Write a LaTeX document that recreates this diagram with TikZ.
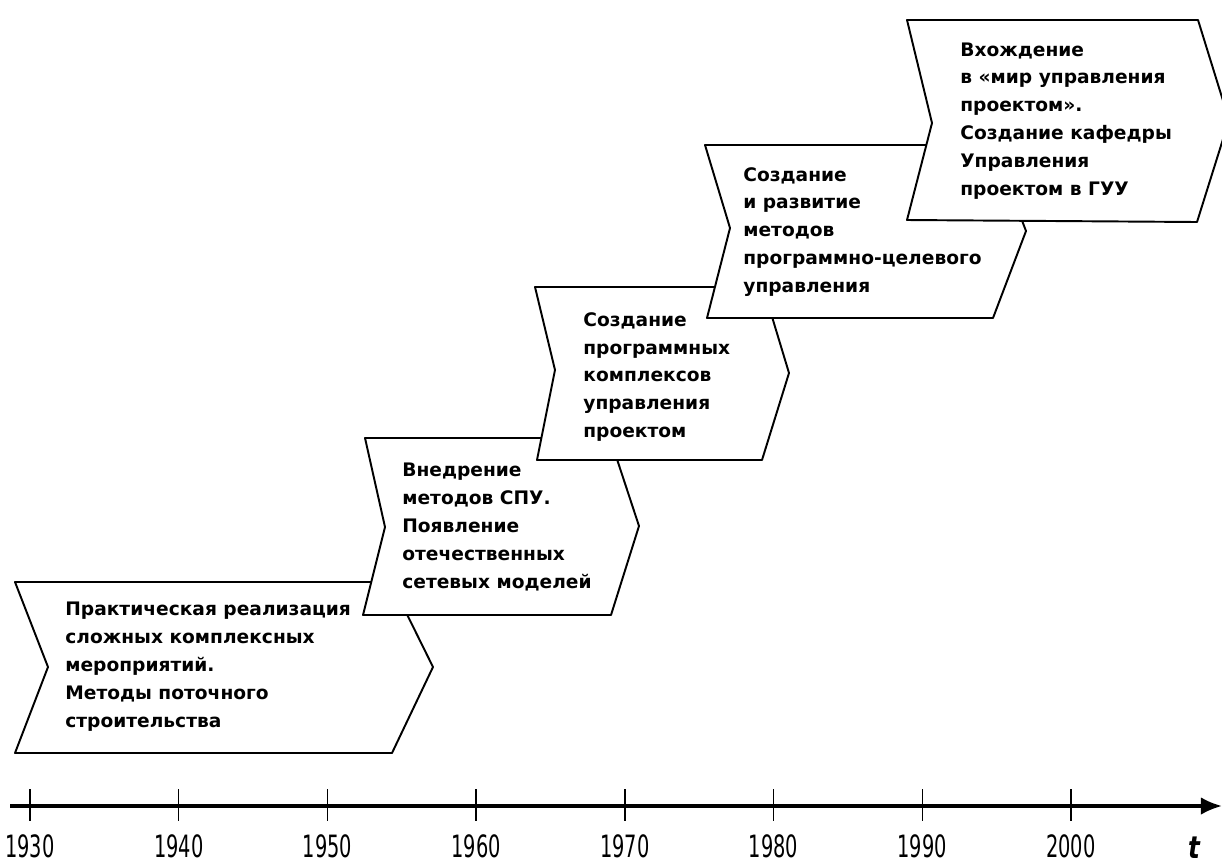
\documentclass[tikz,border=0pt]{standalone}
\usepackage{fontspec}
\usepackage{graphicx}
\setmainfont{DejaVu Sans}
\usetikzlibrary{arrows.meta}
\tikzset{
  stage/.style={draw, fill=white, line width=1.1pt, line join=round},
  stagetext/.style={anchor=west, align=left, inner sep=0pt, font=\fontsize{10.6}{15.9}\selectfont\bfseries},
  year/.style={inner sep=0pt, font=\fontsize{17.5}{17.5}\selectfont}
}
\begin{document}
\begin{tikzpicture}[x=0.02cm, y=-0.02cm]
\useasboundingbox (0,0) rectangle (1222,866);
\clip (0,0) rectangle (1222,866);
\draw[stage] (15,582) -- (391,582) -- (433,667) -- (392,753) -- (15,753) -- (48,667) -- cycle;
\node[stagetext] (s1) at (65,667) {Практическая реализация\\сложных комплексных\\мероприятий.\\Методы поточного\\строительства};
\draw[stage] (365,438) -- (610,438) -- (639,526) -- (611,615) -- (363,615) -- (385,527) -- cycle;
\node[stagetext] (s2) at (402,527) {Внедрение\\методов СПУ.\\Появление\\отечественных\\сетевых моделей};
\draw[stage] (535,287) -- (763,287) -- (789,373) -- (762,460) -- (537,460) -- (555,370) -- cycle;
\node[stagetext] (s3) at (583,377) {Создание\\программных\\комплексов\\управления\\проектом};
\draw[stage] (705,145) -- (993,145) -- (1026,231) -- (993,318) -- (707,318) -- (730,228) -- cycle;
\node[stagetext] (s4) at (743,232) {Создание\\и развитие\\методов\\программно-целевого\\управления};
\draw[stage] (907,20) -- (1198,20) -- (1229,120) -- (1197,222) -- (907,220) -- (932,123) -- cycle;
\node[stagetext] (s5) at (960,121) {Вхождение\\в «мир управления\\проектом».\\Создание кафедры\\Управления\\проектом в ГУУ};
\coordinate (a0) at (10,806);
\coordinate (a1) at (1222,806);
\draw[line width=1.8pt, -{Latex[length=12pt,width=10pt]}] (a0) -- (a1);
\foreach \yr [count=\i from 0, evaluate=\i as \x using 30+148.7*\i] in {1930,1940,...,2000} {
  \coordinate (tk\i) at (\x,789);
  \draw[line width=0.8pt] (tk\i) -- ++(0,32);
  \node[year] (y\yr) at (\x,846) {\scalebox{0.63}[1]{\yr}};
}
\node[year, font=\fontsize{17.5}{17.5}\selectfont\bfseries\itshape] (t) at (1194,848) {\scalebox{0.8}[1]{t}};
\end{tikzpicture}
\end{document}
